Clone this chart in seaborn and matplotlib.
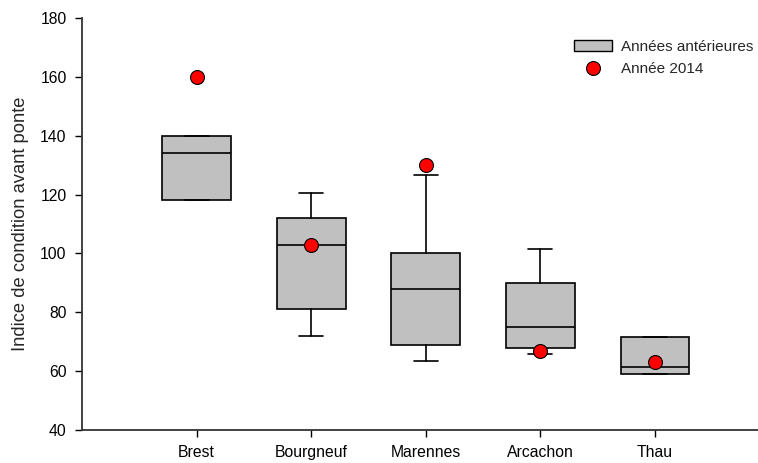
import matplotlib
matplotlib.use("Agg")
import matplotlib.pyplot as plt
from matplotlib.patches import Patch
from matplotlib.lines import Line2D
import seaborn as sns
import pandas as pd

sites = ["Brest", "Bourgneuf", "Marennes", "Arcachon", "Thau"]
whisker_low = [118, 72, 63.5, 65.8, 59.1]
q1 = [118, 81, 69, 68, 59.1]
median = [134, 103, 88, 75, 61.5]
q3 = [140, 112, 100, 90, 71.7]
whisker_high = [140, 120.5, 126.5, 101.5, 71.7]
annee_2014 = [160, 103, 130, 67, 63]

sns.set_theme(style="ticks")
plt.rcParams["font.family"] = ["Liberation Sans", "DejaVu Sans"]

fig = plt.figure(figsize=(7.58, 4.63), dpi=100)
ax = fig.add_axes([0.1082, 0.0713, 0.8918, 0.8898])

stats = [
    dict(label=s, whislo=wl, q1=a, med=m, q3=b, whishi=wh, fliers=[])
    for s, wl, a, m, b, wh in zip(sites, whisker_low, q1, median, q3, whisker_high)
]
positions = list(range(len(sites)))
ax.bxp(
    stats,
    positions=positions,
    widths=0.6,
    patch_artist=True,
    showfliers=False,
    boxprops=dict(facecolor="#c0c0c0", edgecolor="black", linewidth=1.2),
    medianprops=dict(color="black", linewidth=1.2),
    whiskerprops=dict(color="black", linewidth=1.2),
    capprops=dict(color="black", linewidth=1.2),
    capwidths=0.21,
    manage_ticks=False,
)

points = pd.DataFrame({"site": positions, "valeur": annee_2014})
sns.scatterplot(
    data=points, x="site", y="valeur", ax=ax,
    color="#ff0000", edgecolor="black", linewidth=0.8, s=100, zorder=5,
)

ax.set_xlim(-1.0, 4.9)
ax.set_ylim(40, 180)
ax.set_xticks(positions)
ax.set_xticklabels(sites)
ax.set_yticks(range(40, 181, 20))
ax.tick_params(axis="both", labelsize=11.3, colors="black", length=5, width=1, pad=6)
ax.set_xlabel("")
ax.set_ylabel("Indice de condition avant ponte", fontsize=13.2, labelpad=8)

sns.despine(ax=ax)
for side in ("left", "bottom"):
    ax.spines[side].set_color("#333333")
    ax.spines[side].set_linewidth(1.3)

handles = [
    Patch(facecolor="#c0c0c0", edgecolor="black", linewidth=1.0),
    Line2D([], [], marker="o", linestyle="none", markersize=10,
           markerfacecolor="#ff0000", markeredgecolor="black", markeredgewidth=0.8),
]
ax.legend(
    handles, ["Années antérieures", "Année 2014"],
    loc="upper right", bbox_to_anchor=(1.013, 0.98), frameon=False,
    fontsize=11, handlelength=2.5, handleheight=0.7, handletextpad=0.55,
    labelspacing=0.55,
)

fig.savefig("out.png", dpi=100)
